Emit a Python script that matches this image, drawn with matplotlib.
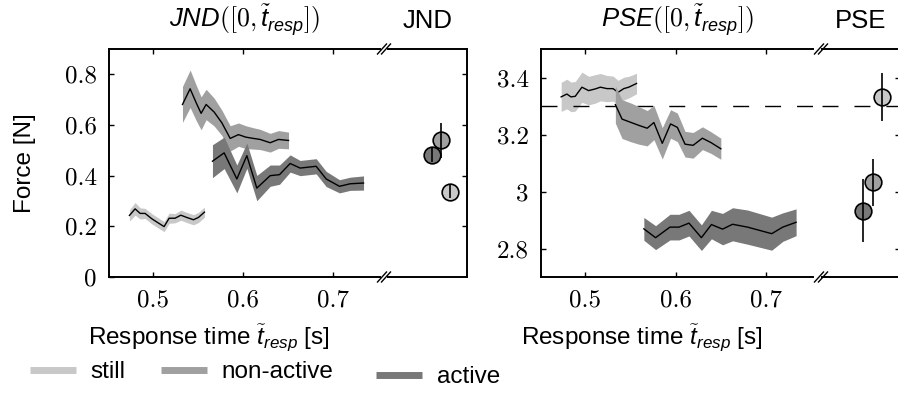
import matplotlib
matplotlib.use("Agg")
import matplotlib.pyplot as plt
from matplotlib.lines import Line2D

plt.rcParams['font.family'] = ['Liberation Sans', 'DejaVu Sans']
plt.rcParams['mathtext.fontset'] = 'custom'
plt.rcParams['mathtext.it'] = 'Liberation Sans:italic'
plt.rcParams['mathtext.rm'] = 'cmr10'
plt.rcParams['axes.unicode_minus'] = False

# ---- data ----
conds = ['still', 'non-active', 'active']
colors = ['#c8c8c8', '#a0a0a0', '#787878']

# JND over response time (mean and half width of the band)
jnd_still_t = [0.4737, 0.4800, 0.4856, 0.4911, 0.4985, 0.5059, 0.5122, 0.5178, 0.5244, 0.5308, 0.5374, 0.5448, 0.5503, 0.5570]
jnd_still_m = [0.243, 0.269, 0.251, 0.251, 0.230, 0.213, 0.199, 0.232, 0.232, 0.244, 0.235, 0.226, 0.235, 0.256]
jnd_still_h = [0.022, 0.025, 0.022, 0.020, 0.020, 0.020, 0.020, 0.020, 0.018, 0.020, 0.020, 0.020, 0.020, 0.020]

jnd_non_t = [0.5326, 0.5411, 0.5478, 0.5533, 0.5589, 0.5678, 0.5763, 0.5856, 0.5948, 0.6030, 0.6115, 0.6189, 0.6300, 0.6393, 0.6504]
jnd_non_m = [0.681, 0.743, 0.688, 0.646, 0.681, 0.651, 0.609, 0.547, 0.562, 0.552, 0.547, 0.543, 0.530, 0.543, 0.539]
jnd_non_h = [0.071, 0.074, 0.070, 0.065, 0.060, 0.055, 0.050, 0.050, 0.046, 0.045, 0.042, 0.040, 0.037, 0.035, 0.033]

jnd_act_t = [0.5659, 0.5789, 0.5930, 0.6041, 0.6152, 0.6300, 0.6404, 0.6522, 0.6633, 0.6811, 0.6922, 0.7070, 0.7189, 0.7337]
jnd_act_m = [0.457, 0.490, 0.387, 0.479, 0.351, 0.400, 0.404, 0.448, 0.430, 0.437, 0.387, 0.358, 0.368, 0.371]
jnd_act_h = [0.065, 0.062, 0.055, 0.050, 0.050, 0.042, 0.038, 0.034, 0.030, 0.030, 0.030, 0.026, 0.026, 0.028]

# PSE over response time
pse_still_t = [0.4733, 0.4796, 0.4841, 0.4889, 0.4963, 0.5037, 0.5111, 0.5167, 0.5241, 0.5307, 0.5363, 0.5426, 0.5481, 0.5567]
pse_still_m = [3.332, 3.342, 3.332, 3.334, 3.366, 3.354, 3.360, 3.366, 3.361, 3.361, 3.348, 3.361, 3.366, 3.379]
pse_still_h = [0.051, 0.052, 0.052, 0.052, 0.053, 0.050, 0.050, 0.048, 0.046, 0.044, 0.042, 0.040, 0.038, 0.036]

pse_non_t = [0.5333, 0.5407, 0.5500, 0.5593, 0.5685, 0.5759, 0.5852, 0.5944, 0.6019, 0.6104, 0.6193, 0.6296, 0.6389, 0.6500]
pse_non_m = [3.305, 3.254, 3.243, 3.232, 3.222, 3.242, 3.169, 3.237, 3.225, 3.166, 3.162, 3.187, 3.172, 3.150]
pse_non_h = [0.065, 0.068, 0.068, 0.066, 0.062, 0.060, 0.055, 0.050, 0.050, 0.045, 0.045, 0.040, 0.038, 0.037]

pse_act_t = [0.5648, 0.5778, 0.5937, 0.6037, 0.6148, 0.6285, 0.6396, 0.6519, 0.6630, 0.6796, 0.7063, 0.7185, 0.7333]
pse_act_m = [2.869, 2.838, 2.875, 2.875, 2.889, 2.838, 2.884, 2.868, 2.885, 2.875, 2.852, 2.875, 2.892]
pse_act_h = [0.040, 0.042, 0.045, 0.045, 0.045, 0.045, 0.050, 0.055, 0.058, 0.060, 0.058, 0.050, 0.047]

# overall values (still, non-active, active)
jnd_all = [0.337, 0.539, 0.483]
jnd_all_err = [0.025, 0.068, 0.030]
jnd_all_pos = [0.78, 0.67, 0.56]
pse_all = [3.333, 3.032, 2.933]
pse_all_err = [0.084, 0.082, 0.110]
pse_all_pos = [0.77, 0.65, 0.53]
pse_ref = 3.3

jnd_series = [(jnd_still_t, jnd_still_m, jnd_still_h),
              (jnd_non_t, jnd_non_m, jnd_non_h),
              (jnd_act_t, jnd_act_m, jnd_act_h)]
pse_series = [(pse_still_t, pse_still_m, pse_still_h),
              (pse_non_t, pse_non_m, pse_non_h),
              (pse_act_t, pse_act_m, pse_act_h)]

t_ticks = [0.5, 0.6, 0.7]
jnd_ticks = [0, 0.2, 0.4, 0.6, 0.8]
jnd_labels = ['0', '0.2', '0.4', '0.6', '0.8']
pse_ticks = [2.8, 3.0, 3.2, 3.4]
pse_labels = ['2.8', '3', '3.2', '3.4']

# ---- layout (pixels) ----
W, H = 898, 398
fig = plt.figure(figsize=(W / 100, H / 100), dpi=100)


def box(x0, x1, y0=49, y1=277):
    return [x0 / W, 1 - y1 / H, (x1 - x0) / W, (y1 - y0) / H]


ax_j = fig.add_axes(box(109, 380))
ax_j2 = fig.add_axes(box(388, 467))
ax_p = fig.add_axes(box(541, 813))
ax_p2 = fig.add_axes(box(822, 900))

TICKFONT = dict(fontfamily='cmr10', fontsize=18)
LW = 1.4


def style_main(ax, ylim, yt, yl):
    ax.set_xlim(0.451, 0.752)
    ax.set_ylim(*ylim)
    ax.spines['right'].set_visible(False)
    for s in ['left', 'top', 'bottom']:
        ax.spines[s].set_linewidth(LW)
    ax.tick_params(direction='in', top=True, right=False, length=3.5, width=1, pad=9)
    ax.set_xticks(t_ticks)
    ax.set_xticklabels(['0.5', '0.6', '0.7'], **TICKFONT)
    ax.set_yticks(yt)
    ax.set_yticklabels(yl, **TICKFONT)
    ax.set_xlabel(r'Response time $\tilde{t}_{resp}$ [s]', fontsize=17.5)
    ax.xaxis.set_label_coords(0.37, -0.2)


def style_side(ax, ylim, yt):
    ax.set_xlim(0, 1)
    ax.set_ylim(*ylim)
    ax.spines['left'].set_visible(False)
    for s in ['right', 'top', 'bottom']:
        ax.spines[s].set_linewidth(LW)
    ax.set_xticks([])
    ax.set_yticks(yt)
    ax.tick_params(axis='y', direction='in', left=False, right=True,
                   labelleft=False, labelright=False, length=3.5, width=1)


def bands(ax, series):
    for (t, m, h), c, z in zip(series, colors, [1, 2, 3]):
        lo = [a - b for a, b in zip(m, h)]
        hi = [a + b for a, b in zip(m, h)]
        ax.fill_between(t, lo, hi, color=c, lw=0, zorder=z)
        ax.plot(t, m, color='k', lw=1.0, zorder=z + 0.1)


def points(ax, pos, vals, errs):
    for x, v, e, c in zip(pos, vals, errs, colors):
        ax.plot([x], [v], 'o', ms=12, mfc=c, mec='k', mew=1.2, zorder=3)
        ax.errorbar([x], [v], yerr=[e], fmt='none', ecolor='k', elinewidth=1.2, capsize=0, zorder=4)


bands(ax_j, jnd_series)
style_main(ax_j, (0, 0.9), jnd_ticks, jnd_labels)
ax_j.set_ylabel('Force [N]', fontsize=17.5)
ax_j.yaxis.set_label_coords(-0.27, 0.5)
ax_j.set_title(r'$JND([0,\tilde{t}_{resp}])$', fontsize=18.5, pad=15)

points(ax_j2, jnd_all_pos, jnd_all, jnd_all_err)
style_side(ax_j2, (0, 0.9), jnd_ticks[1:])
ax_j2.set_title('JND', fontsize=18.5, pad=15)

bands(ax_p, pse_series)
ax_p.axhline(pse_ref, color='k', lw=1.0, dashes=(11.5, 11.5), zorder=1.5)
style_main(ax_p, (2.7, 3.5), pse_ticks, pse_labels)
ax_p.set_title(r'$PSE([0,\tilde{t}_{resp}])$', fontsize=18.5, pad=15)

ax_p2.axhline(pse_ref, color='k', lw=1.0, dashes=(11.5, 11.5), zorder=1)
points(ax_p2, pse_all_pos, pse_all, pse_all_err)
style_side(ax_p2, (2.7, 3.5), pse_ticks)
ax_p2.set_title('PSE', fontsize=18.5, pad=15)

# axis break marks "//"
for gx in [384, 821]:
    for dx in [-2, 2]:
        for gy in [49, 277]:
            xs = [(gx + dx - 4.5) / W, (gx + dx + 4.5) / W]
            ys = [1 - (gy + 5) / H, 1 - (gy - 5) / H]
            fig.add_artist(Line2D(xs, ys, transform=fig.transFigure, color='k', lw=1.0))

# legend
handles = [Line2D([], [], color=c, lw=5, solid_capstyle='butt') for c in colors]
leg_kw = dict(frameon=False, fontsize=17.5, handlelength=1.9, handletextpad=0.6,
              borderpad=0, borderaxespad=0, loc='center left')
fig.legend(handles[:2], conds[:2], ncol=2, columnspacing=1.45,
           bbox_to_anchor=(30 / W, 1 - 372 / H), **leg_kw)
fig.legend(handles[2:], conds[2:], bbox_to_anchor=(376 / W, 1 - 377 / H), **leg_kw)

fig.savefig('out.png', dpi=100)
